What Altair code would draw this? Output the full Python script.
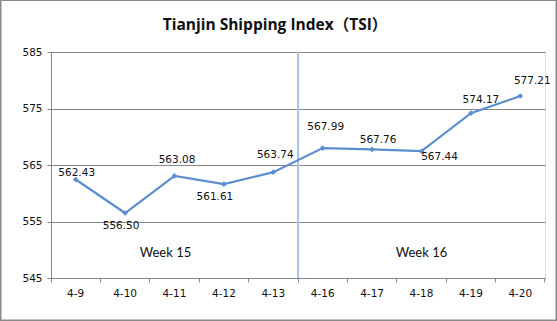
import altair as alt
import pandas as pd

dates = ["4-9", "4-10", "4-11", "4-12", "4-13", "4-16", "4-17", "4-18", "4-19", "4-20"]
values = [562.43, 556.50, 563.08, 561.61, 563.74, 567.99, 567.76, 567.44, 574.17, 577.21]
y_ticks = [545, 555, 565, 575, 585]
week_labels = ["Week 15", "Week 16"]
week_anchor_dates = ["4-11", "4-18"]
title_text = "Tianjin Shipping Index（TSI）"

df = pd.DataFrame({"date": dates, "value": values,
                   "label": [f"{v:.2f}" for v in values]})

W, H = 494, 226
LINE = "#5b8fcf"
GRID = "#878787"
NUM_FONT = "DejaVu Sans"

x_scale = alt.Scale(type="band", domain=dates, paddingInner=0, paddingOuter=0)
y_scale = alt.Scale(domain=[545, 585], nice=False, zero=False)

x_enc = alt.X("date:O", scale=x_scale, sort=dates,
              axis=alt.Axis(title=None, labelAngle=0, labelFont=NUM_FONT,
                            labelFontSize=10.5, labelColor="#111",
                            labelAlign="center",
                            domainColor=GRID, tickColor=GRID, tickSize=4,
                            bandPosition=1, tickExtra=True, labelPadding=11,
                            grid=False))
y_enc = alt.Y("value:Q", scale=y_scale,
              axis=alt.Axis(title=None, values=y_ticks, grid=True,
                            gridColor=GRID, gridWidth=1, domainColor=GRID,
                            tickColor=GRID, tickSize=4, labelPadding=5,
                            labelFont=NUM_FONT, labelFontSize=10.5,
                            labelColor="#111"))

base = alt.Chart(df)

line = base.mark_line(color=LINE, strokeWidth=2.2).encode(x=x_enc, y=y_enc)
pts = base.mark_point(shape="diamond", filled=True, size=32, color=LINE,
                      opacity=1).encode(x="date:O", y="value:Q")

# label offsets (dx, dy) relative to each point, as in the original
offsets = {
    "4-9": (1, -7), "4-10": (-4, 13), "4-11": (2.5, -16), "4-12": (-9, 13),
    "4-13": (2, -17), "4-16": (3, -21), "4-17": (6, -9), "4-18": (18, 6),
    "4-19": (10, -13), "4-20": (12, -15),
}
labels = []
for d, (dx, dy) in offsets.items():
    labels.append(
        base.transform_filter(alt.datum.date == d)
        .mark_text(font=NUM_FONT, fontSize=10.5, color="#111", dx=dx, dy=dy,
                   baseline="middle", align="center")
        .encode(x="date:O", y="value:Q", text="label:N")
    )

sep = alt.Chart(pd.DataFrame({"a": [0]})).mark_rule(
    color="#a7c4e5", strokeWidth=2
).encode(x=alt.XDatum("4-16", type="ordinal", bandPosition=0),
         y=alt.YDatum(585, type="quantitative"),
         y2=alt.Y2Datum(545))

weeks = []
for lab, d, dx in zip(week_labels, week_anchor_dates, [-9, 0]):
    weeks.append(
        alt.Chart(pd.DataFrame({"a": [0]})).mark_text(
            font="Lato", fontSize=13, color="#111", dx=dx, dy=3,
            baseline="middle"
        ).encode(x=alt.XDatum(d, type="ordinal"),
                 y=alt.YDatum(550, type="quantitative"),
                 text=alt.value(lab))
    )

frame = alt.Chart(pd.DataFrame({"a": [0]})).mark_rect(
    filled=False, stroke="#8a8a8a", strokeWidth=1.5, clip=False
).encode(x=alt.value(-50.25), x2=alt.value(W + 11.25),
         y=alt.value(-51.75), y2=alt.value(H + 42.25))

chart = alt.layer(sep, line, pts, *labels, *weeks, frame).properties(
    width=W, height=H,
    title=alt.TitleParams(title_text, font="Open Sans, Noto Sans CJK SC",
                          fontSize=15.5, fontWeight="bold", color="#111",
                          anchor="middle", dx=-23, dy=58, offset=9,
                          baseline="bottom"),
    padding={"left": 51, "top": 52, "right": 12, "bottom": 43},
    autosize="none",
).configure_view(stroke=None).configure(background="white")

chart.save("out.html", embed_options={"renderer": "svg", "actions": False})
